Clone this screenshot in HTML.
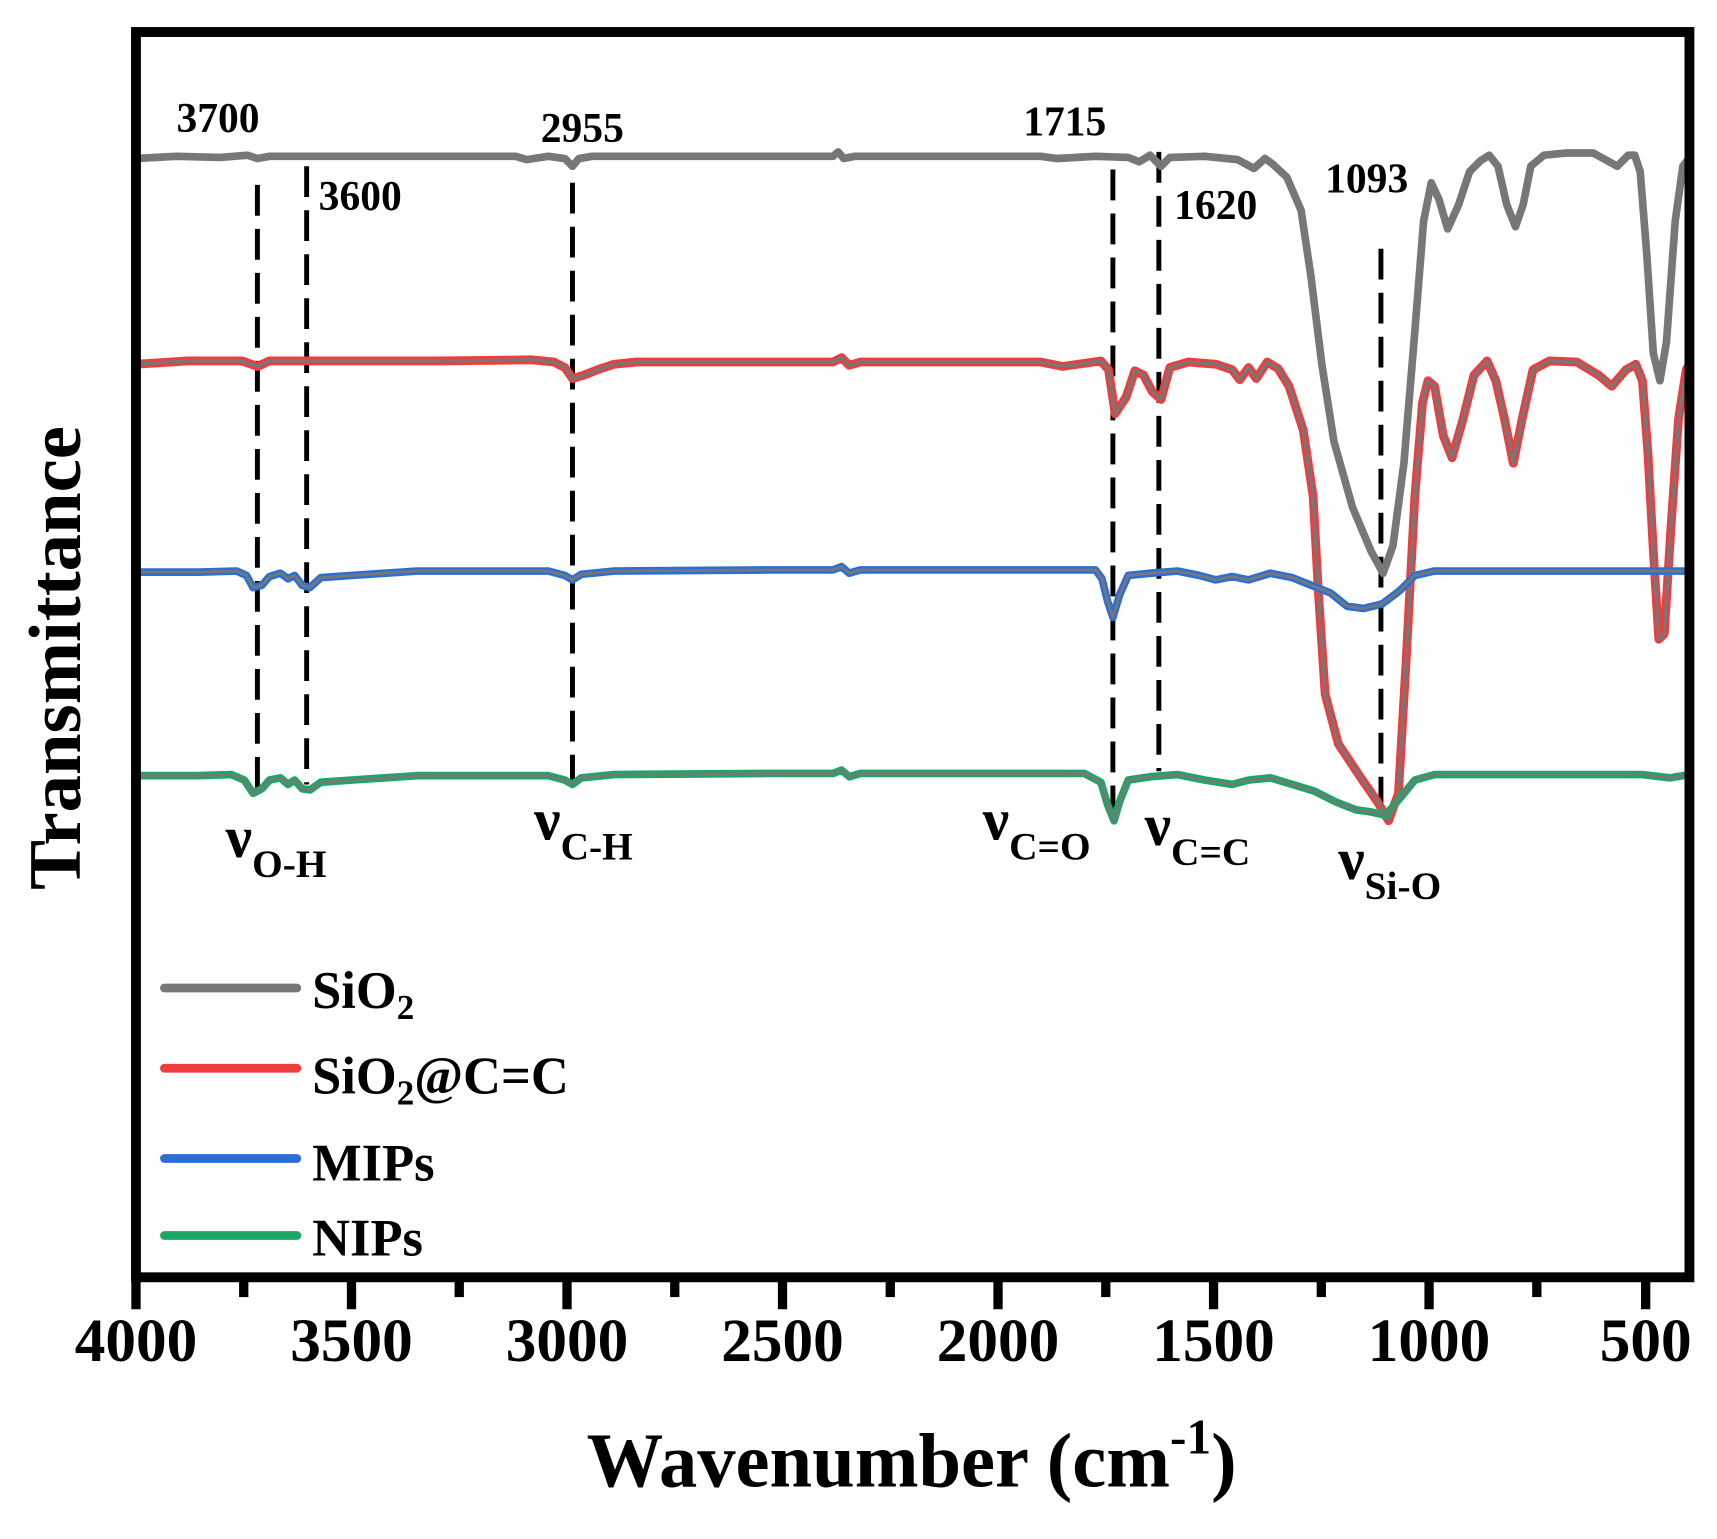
<!DOCTYPE html>
<html><head><style>
html,body{margin:0;padding:0;background:#fff;}
svg{display:block;}
text{font-family:"Liberation Serif",serif;font-weight:bold;fill:#000;}
</style></head><body>
<svg width="1717" height="1539" viewBox="-1.3 -1.1 1569.5 1399" preserveAspectRatio="none" xmlns="http://www.w3.org/2000/svg">
<rect x="-5" y="-5" width="1580" height="1410" fill="#fff"/>
<!-- dashed lines -->
<g stroke="#000" stroke-width="4.5" stroke-dasharray="28,12" fill="none">
<line x1="234" y1="167" x2="234" y2="715"/>
<line x1="279" y1="150" x2="279" y2="712"/>
<line x1="522" y1="165" x2="522" y2="712"/>
<line x1="1016" y1="153" x2="1016" y2="740"/>
<line x1="1058" y1="137" x2="1058" y2="700"/>
<line x1="1261" y1="225" x2="1261" y2="742"/>
</g>
<!-- curves -->
<g fill="none" stroke-linejoin="round" stroke-linecap="round">
<polyline stroke="#777" stroke-width="7" points="123,143 160,141 200,142 225,140 234,143 245,141 300,141 400,141 470,141 480,144 500,141 515,143 522,150 528,143 540,141 600,141 700,141 760,141 765,137 770,143 780,141 850,141 950,141 965,143 1000,141 1030,142 1040,146 1050,140 1060,150 1068,142 1100,141 1130,144 1145,152 1155,143 1162,148 1175,160 1188,190 1197,250 1207,330 1218,400 1235,460 1252,500 1263,520 1272,495 1282,420 1292,300 1300,200 1307,165 1314,180 1322,207 1332,185 1342,155 1352,145 1360,140 1368,150 1376,185 1384,205 1391,185 1398,150 1410,140 1430,138 1455,138 1468,145 1477,150 1487,140 1493,140 1498,155 1504,230 1510,320 1516,345 1522,310 1530,200 1537,150 1543,142"/>
<polyline stroke="#f03c3c" stroke-width="8" points="123,330 170,327 220,327 234,332 245,327 300,327 400,327 485,326 505,328 515,333 522,343 532,340 545,335 560,330 580,328 700,328 760,328 768,324 775,331 785,328 850,328 950,328 970,332 1005,327 1012,335 1018,375 1028,360 1036,336 1044,340 1052,355 1060,362 1068,333 1085,328 1110,330 1125,335 1132,344 1140,333 1147,343 1157,328 1167,334 1177,350 1190,390 1199,450 1204,540 1210,630 1222,675 1242,705 1258,728 1268,745 1277,720 1284,600 1292,450 1299,365 1304,345 1310,350 1318,395 1326,415 1336,380 1346,340 1358,327 1366,345 1374,380 1382,420 1390,380 1400,335 1415,327 1440,328 1460,340 1472,350 1485,335 1494,330 1500,345 1505,410 1510,500 1515,580 1520,575 1526,480 1533,380 1540,335 1543,330"/>
<polyline stroke="#777" stroke-width="3" points="123,330 170,327 220,327 234,332 245,327 300,327 400,327 485,326 505,328 515,333 522,343 532,340 545,335 560,330 580,328 700,328 760,328 768,324 775,331 785,328 850,328 950,328 970,332 1005,327 1012,335 1018,375 1028,360 1036,336 1044,340 1052,355 1060,362 1068,333 1085,328 1110,330 1125,335 1132,344 1140,333 1147,343 1157,328 1167,334 1177,350 1190,390 1199,450 1204,540 1210,630 1222,675 1242,705 1258,728 1268,745 1277,720 1284,600 1292,450 1299,365 1304,345 1310,350 1318,395 1326,415 1336,380 1346,340 1358,327 1366,345 1374,380 1382,420 1390,380 1400,335 1415,327 1440,328 1460,340 1472,350 1485,335 1494,330 1500,345 1505,410 1510,500 1515,580 1520,575 1526,480 1533,380 1540,335 1543,330"/>
<polyline stroke="#2a6fd6" stroke-width="7" points="123,519 180,519 215,518 224,522 230,533 238,531 245,523 255,520 262,525 268,522 275,531 282,533 292,524 320,522 380,518 500,518 515,522 522,526 530,521 560,518 700,517 760,517 768,514 775,520 785,517 900,517 1000,517 1006,525 1011,545 1016,560 1022,540 1030,522 1050,520 1075,518 1095,522 1110,526 1125,523 1140,526 1160,520 1180,524 1195,530 1215,538 1230,550 1245,552 1262,548 1278,536 1292,522 1310,518 1400,518 1543,518"/>
<polyline stroke="#777" stroke-width="2.5" points="123,519 180,519 215,518 224,522 230,533 238,531 245,523 255,520 262,525 268,522 275,531 282,533 292,524 320,522 380,518 500,518 515,522 522,526 530,521 560,518 700,517 760,517 768,514 775,520 785,517 900,517 1000,517 1006,525 1011,545 1016,560 1022,540 1030,522 1050,520 1075,518 1095,522 1110,526 1125,523 1140,526 1160,520 1180,524 1195,530 1215,538 1230,550 1245,552 1262,548 1278,536 1292,522 1310,518 1400,518 1543,518"/>
<polyline stroke="#1aa867" stroke-width="7" points="123,704 180,704 210,703 222,708 230,720 238,716 245,708 255,706 262,712 268,708 275,716 282,717 292,710 320,708 380,704 500,704 515,708 522,712 530,706 560,703 700,702 760,702 768,699 775,705 785,702 900,702 990,702 1005,710 1011,730 1017,745 1022,728 1030,708 1050,705 1075,703 1100,708 1125,712 1140,708 1160,706 1180,712 1200,718 1220,728 1238,735 1252,737 1265,740 1278,725 1292,708 1310,703 1400,703 1500,703 1525,706 1543,703"/>
<polyline stroke="#777" stroke-width="2.5" points="123,704 180,704 210,703 222,708 230,720 238,716 245,708 255,706 262,712 268,708 275,716 282,717 292,710 320,708 380,704 500,704 515,708 522,712 530,706 560,703 700,702 760,702 768,699 775,705 785,702 900,702 990,702 1005,710 1011,730 1017,745 1022,728 1030,708 1050,705 1075,703 1100,708 1125,712 1140,708 1160,706 1180,712 1200,718 1220,728 1238,735 1252,737 1265,740 1278,725 1292,708 1310,703 1400,703 1500,703 1525,706 1543,703"/>
</g>
<!-- frame -->
<rect x="123" y="28" width="1420" height="1132" fill="none" stroke="#000" stroke-width="9"/>
<g stroke="#000" stroke-width="8.5">
<line x1="123" y1="1160" x2="123" y2="1189"/><line x1="221.5" y1="1160" x2="221.5" y2="1178"/>
<line x1="320" y1="1160" x2="320" y2="1189"/><line x1="418.5" y1="1160" x2="418.5" y2="1178"/>
<line x1="517" y1="1160" x2="517" y2="1189"/><line x1="615.5" y1="1160" x2="615.5" y2="1178"/>
<line x1="714" y1="1160" x2="714" y2="1189"/><line x1="812.5" y1="1160" x2="812.5" y2="1178"/>
<line x1="911" y1="1160" x2="911" y2="1189"/><line x1="1009.5" y1="1160" x2="1009.5" y2="1178"/>
<line x1="1108" y1="1160" x2="1108" y2="1189"/><line x1="1206.5" y1="1160" x2="1206.5" y2="1178"/>
<line x1="1305" y1="1160" x2="1305" y2="1189"/><line x1="1403.5" y1="1160" x2="1403.5" y2="1178"/>
<line x1="1503" y1="1160" x2="1503" y2="1189"/>
</g>
<g font-size="56" text-anchor="middle">
<text x="123" y="1236">4000</text><text x="320" y="1236">3500</text><text x="517" y="1236">3000</text>
<text x="714" y="1236">2500</text><text x="911" y="1236">2000</text><text x="1108" y="1236">1500</text>
<text x="1305" y="1236">1000</text><text x="1503" y="1236">500</text>
</g>
<text x="832" y="1350" font-size="70" text-anchor="middle">Wavenumber (cm<tspan font-size="45" dy="-30">-1</tspan><tspan dy="30">)</tspan></text>
<text transform="translate(72,597) rotate(-90)" font-size="68" text-anchor="middle">Transmittance</text>
<!-- annotations -->
<g font-size="38">
<text x="160" y="119">3700</text><text x="290" y="190">3600</text><text x="493" y="128">2955</text>
<text x="934" y="122">1715</text><text x="1072" y="198">1620</text><text x="1210" y="174">1093</text>
</g>
<g font-size="54">
<text x="205" y="778">ν<tspan font-size="36" dy="18">O-H</tspan></text>
<text x="487" y="762">ν<tspan font-size="36" dy="18">C-H</tspan></text>
<text x="897" y="762">ν<tspan font-size="36" dy="18">C=O</tspan></text>
<text x="1045" y="767">ν<tspan font-size="36" dy="18">C=C</tspan></text>
<text x="1222" y="798">ν<tspan font-size="36" dy="18">Si-O</tspan></text>
</g>
<!-- legend -->
<g stroke-width="8" stroke-linecap="round">
<line x1="149" y1="897" x2="270" y2="897" stroke="#777"/>
<line x1="149" y1="970" x2="270" y2="970" stroke="#f03c3c"/>
<line x1="149" y1="1052" x2="270" y2="1052" stroke="#2a6fd6"/>
<line x1="149" y1="1122" x2="270" y2="1122" stroke="#1aa867"/>
</g>
<g font-size="48">
<text x="284" y="915">SiO<tspan font-size="32" dy="10">2</tspan></text>
<text x="284" y="993">SiO<tspan font-size="32" dy="10">2</tspan><tspan dy="-10">@C=C</tspan></text>
<text x="284" y="1072">MIPs</text>
<text x="284" y="1140">NIPs</text>
</g>
</svg>
</body></html>
